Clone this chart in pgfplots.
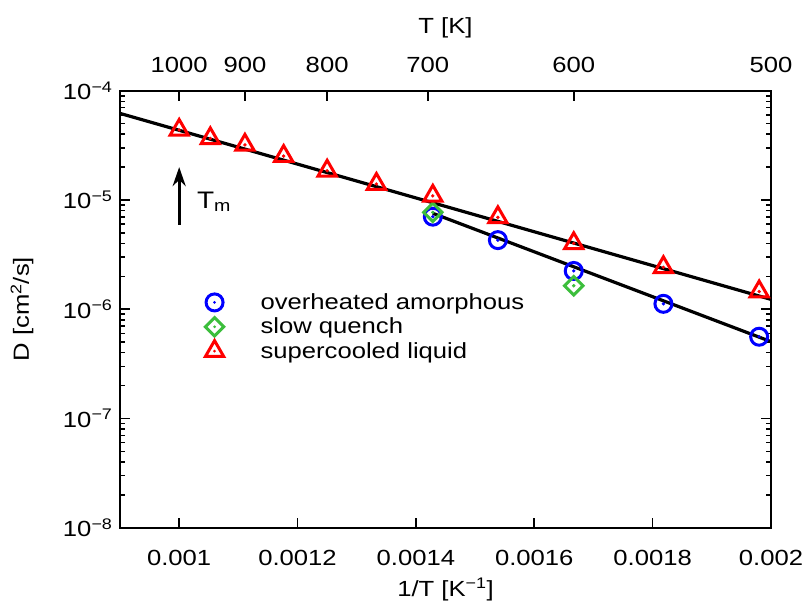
\documentclass[border=0pt]{standalone}
\usepackage{fontspec}
\setmainfont{Liberation Sans}[FakeStretch=1.17]
\usepackage{pgfplots}
\pgfplotsset{compat=1.18}
\usetikzlibrary{arrows.meta}
\definecolor{gpblue}{RGB}{0,0,255}
\definecolor{gpgreen}{RGB}{60,190,60}
\definecolor{gpred}{RGB}{255,0,0}

\pgfplotstableread{
x y
0.0014286 7.03e-6
0.0015385 4.29e-6
0.0016667 2.24e-6
0.0018182 1.12e-6
0.00198 5.6e-7
}\amorph
\pgfplotstableread{
x y
0.0014286 7.71e-6
0.0016667 1.64e-6
}\quench
\pgfplotstableread{
x y
0.001 4.37e-5
0.0010526 3.66e-5
0.0011111 3.19e-5
0.0011765 2.52e-5
0.00125 1.85e-5
0.0013333 1.40e-5
0.0014286 1.09e-5
0.0015385 6.93e-6
0.0016667 4.01e-6
0.0018182 2.42e-6
0.00198 1.45e-6
}\liquid

\begin{document}
\begin{tikzpicture}[font=\fontsize{22}{26}\selectfont]
\begin{axis}[name=main,
  scale only axis, width=651bp, height=437bp,
  xmin=0.0009, xmax=0.002, ymode=log, ymin=1e-8, ymax=1e-4,
  scaled x ticks=false,
  axis line style={line width=1.8bp, black},
  major tick length=10bp, minor tick length=5bp,
  tick style={line width=1.6bp, black},
  tick align=inside,
  xtick={0.001,0.0012,0.0014,0.0016,0.0018,0.002},
  xticklabels={0.001,0.0012,0.0014,0.0016,0.0018,0.002},
  xtick pos=left, ytick pos=both,
  yticklabel={10\textsuperscript{−\pgfmathparse{int(round(-\tick/ln(10)))}\pgfmathresult}},
  xticklabel style={anchor=center, yshift=-30bp},
  yticklabel style={anchor=east, xshift=-4bp},
  xlabel={1/T [K\textsuperscript{−1}]},
  ylabel={D [cm\textsuperscript{2}/s]},
  xlabel style={at={(axis description cs:0.5,0)}, anchor=center, yshift=-62bp},
  ylabel style={at={(axis description cs:-0.1505,0.5)}, anchor=center},
  legend style={at={(axis description cs:0.125,0.545)}, anchor=north west,
    draw=none, fill=none, row sep=3bp, font=\fontsize{22}{26}\selectfont},
  legend cell align=left,
  legend image code/.code={%
    \draw[#1, only marks] plot coordinates {(0bp,0bp)};
    \fill[#1, draw=none] (0bp,0bp) circle (1.5bp);
    \path[draw=none, fill=none] (-10bp,0bp) -- (44bp,0bp);
  },
]
\addplot[only marks, mark=o, mark size=8.5bp, gpblue, line width=3bp] table {\amorph};
\addlegendentry{overheated amorphous}
\addplot[only marks, mark=square, mark options={rotate=45}, mark size=6.5bp, gpgreen, line width=3bp] table {\quench};
\addlegendentry{slow quench}
\addplot[only marks, mark=triangle, mark size=10.5bp, gpred, line width=3bp] table {\liquid};
\addlegendentry{supercooled liquid}
\addplot[only marks, mark=*, mark size=1.5bp, gpblue, forget plot] table {\amorph};
\addplot[only marks, mark=*, mark size=1.5bp, gpgreen, forget plot] table {\quench};
\addplot[only marks, mark=*, mark size=1.5bp, gpred, forget plot] table {\liquid};
\addplot[black, line width=3.2bp, forget plot] coordinates {(0.0009,6.2e-5) (0.002,1.23e-6)};
\addplot[black, line width=3.2bp, forget plot] coordinates {(0.0014286,7.55e-6) (0.002,5.05e-7)};
\draw[-{Stealth[length=19bp,width=13bp]}, line width=3bp] (axis cs:0.001,5.9e-6) -- (axis cs:0.001,2.0e-5);
\node[anchor=base west, inner sep=0pt, font=\fontsize{24}{28}\selectfont] at (axis cs:0.00103,8.4e-6) {T\textsubscript{m}};
\end{axis}
\begin{axis}[
  scale only axis, width=651bp, height=437bp,
  xmin=0.0009, xmax=0.002, ymin=0, ymax=1,
  scaled x ticks=false,
  axis x line*=top, axis y line=none,
  axis line style={line width=1.8bp, black},
  major tick length=10bp,
  tick style={line width=1.6bp, black},
  tick align=inside,
  xtick={0.001,0.0011111,0.00125,0.00142,0.0016667,0.002},
  xticklabels={1000,900,800,700,600,500},
  xticklabel style={anchor=center, yshift=26bp},
  xlabel={T [K]},
  xlabel style={at={(axis description cs:0.5,1)}, anchor=center, yshift=63bp},
]
\end{axis}
\pgfresetboundingbox
\path (main.south west) ++(-120bp,-80.3bp) rectangle ++(811bp,608bp);
\end{tikzpicture}
\end{document}
